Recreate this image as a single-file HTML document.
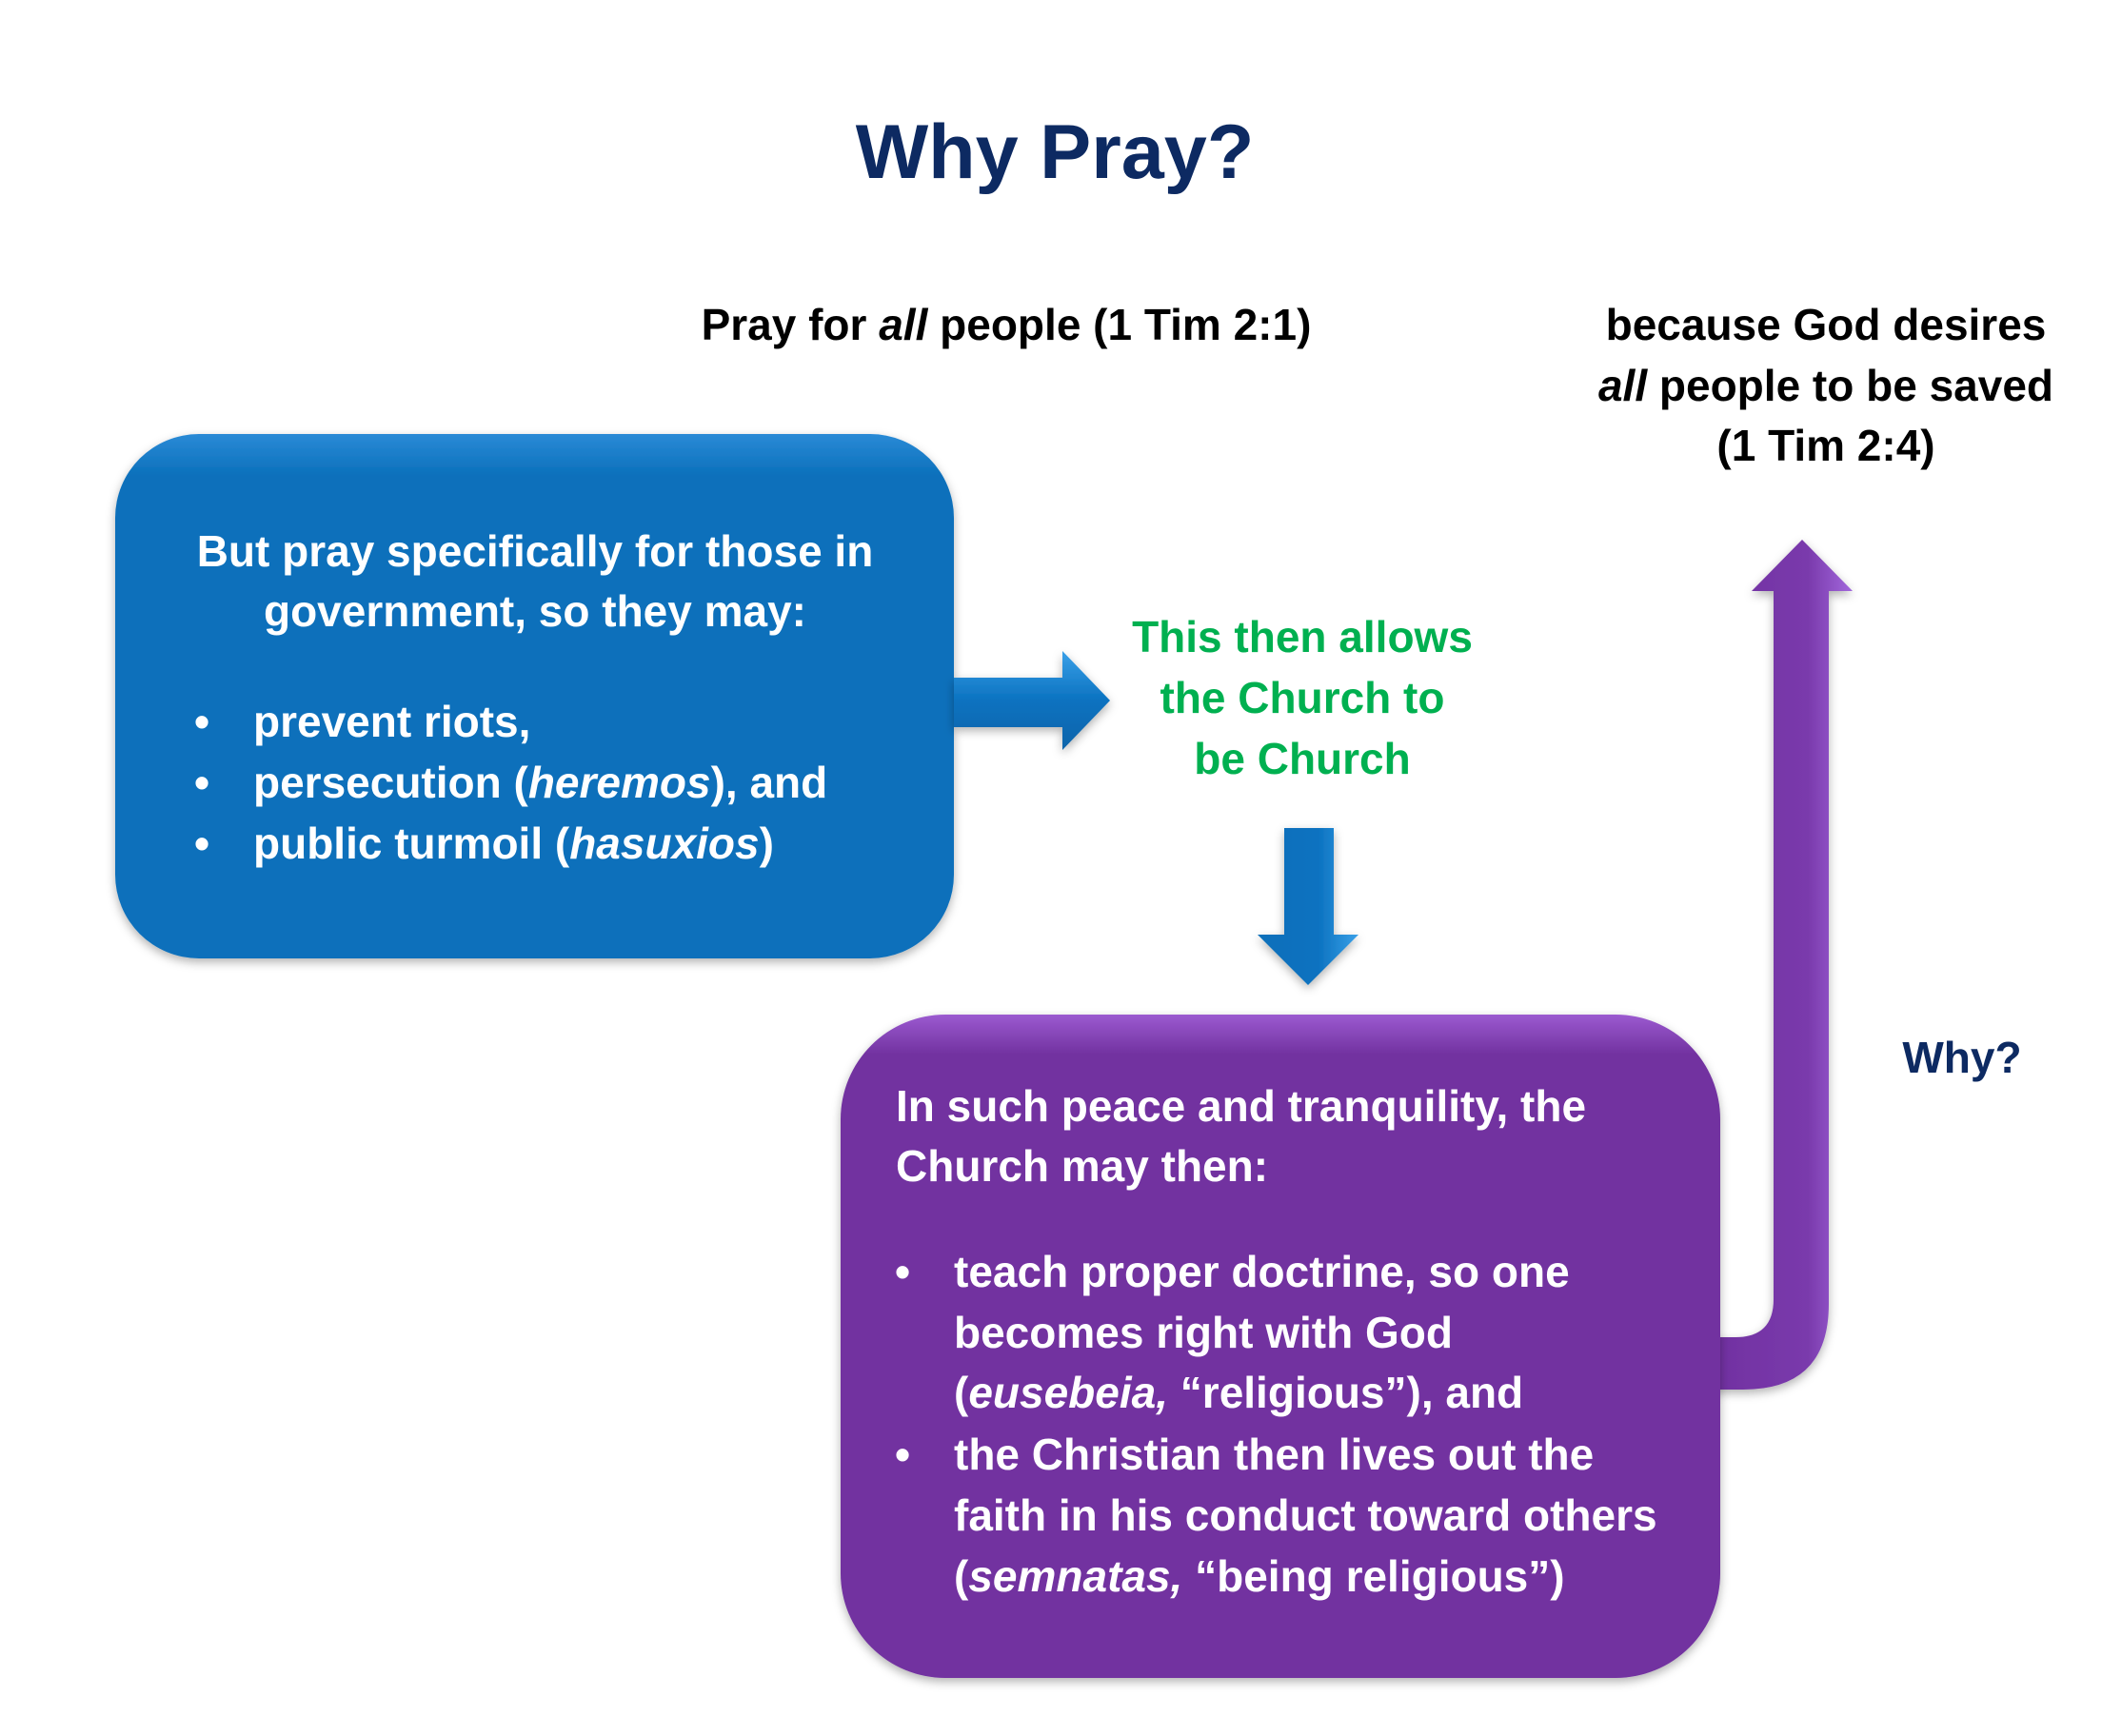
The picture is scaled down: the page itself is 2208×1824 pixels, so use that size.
<!DOCTYPE html>
<html><head><meta charset="utf-8"><style>
html,body{margin:0;padding:0;background:#fff;}
svg{display:block;}
text{font-family:"Liberation Sans",Arial,sans-serif;font-weight:bold;}
</style></head><body>
<svg width="2208" height="1824" viewBox="0 0 2208 1824" xmlns="http://www.w3.org/2000/svg">
<defs>
<filter id="sh" x="-10%" y="-10%" width="120%" height="120%"><feDropShadow dx="0" dy="4" stdDeviation="5" flood-color="#000" flood-opacity="0.3"/></filter>
<linearGradient id="bl" x1="0" y1="0" x2="0" y2="1"><stop offset="0" stop-color="#2a8ad6"/><stop offset="0.08" stop-color="#0b70bb"/><stop offset="1" stop-color="#0b70bb"/></linearGradient>
<linearGradient id="pu" x1="0" y1="0" x2="0" y2="1"><stop offset="0" stop-color="#9b5ad0"/><stop offset="0.06" stop-color="#7232a0"/><stop offset="1" stop-color="#7232a0"/></linearGradient>
<linearGradient id="pa" x1="0" y1="0" x2="1" y2="0"><stop offset="0" stop-color="#7030a0"/><stop offset="0.7" stop-color="#7a3aac"/><stop offset="1" stop-color="#a268dc"/></linearGradient>
<linearGradient id="ba" x1="0" y1="0" x2="0" y2="1"><stop offset="0" stop-color="#3aa0e8"/><stop offset="0.5" stop-color="#0b72c0"/><stop offset="1" stop-color="#0a64aa"/></linearGradient>
<linearGradient id="bd" x1="0" y1="0" x2="1" y2="0"><stop offset="0" stop-color="#0b6fba"/><stop offset="0.6" stop-color="#0b72c0"/><stop offset="1" stop-color="#3aa0e8"/></linearGradient>
</defs>

<text x="1108" y="160" text-anchor="middle" dominant-baseline="central" font-size="81" fill="#0d2a62">Why Pray?</text>

<text x="1057" y="341" text-anchor="middle" dominant-baseline="central" font-size="46" fill="#000">Pray for <tspan font-style="italic">all</tspan> people (1 Tim 2:1)</text>

<text x="1918" y="341" text-anchor="middle" dominant-baseline="central" font-size="46" fill="#000">because God desires</text>
<text x="1918" y="405" text-anchor="middle" dominant-baseline="central" font-size="46" fill="#000"><tspan font-style="italic">all</tspan> people to be saved</text>
<text x="1918" y="468" text-anchor="middle" dominant-baseline="central" font-size="46" fill="#000">(1 Tim 2:4)</text>

<rect x="121" y="456" width="881" height="551" rx="88" fill="url(#bl)" filter="url(#sh)"/>
<text x="562" y="579" text-anchor="middle" dominant-baseline="central" font-size="46" fill="#fff">But pray specifically for those in</text>
<text x="562" y="642" text-anchor="middle" dominant-baseline="central" font-size="46" fill="#fff">government, so they may:</text>
<g font-size="46" fill="#fff" dominant-baseline="central">
<text x="204" y="758">•</text><text x="266" y="758">prevent riots,</text>
<text x="204" y="822">•</text><text x="266" y="822">persecution (<tspan font-style="italic">heremos</tspan>),  and</text>
<text x="204" y="886">•</text><text x="266" y="886">public turmoil (<tspan font-style="italic">hasuxios</tspan>)</text>
</g>

<path d="M1002 712 L1116 712 L1116 684 L1166 736 L1116 788 L1116 764 L1002 764 Z" fill="url(#ba)" filter="url(#sh)"/>

<text x="1368" y="669" text-anchor="middle" dominant-baseline="central" font-size="46" fill="#00b050">This then allows</text>
<text x="1368" y="733" text-anchor="middle" dominant-baseline="central" font-size="46" fill="#00b050">the Church to</text>
<text x="1368" y="797" text-anchor="middle" dominant-baseline="central" font-size="46" fill="#00b050">be Church</text>

<path d="M1349 870 L1401 870 L1401 982 L1427 982 L1374 1035 L1321 982 L1349 982 Z" fill="url(#bd)" filter="url(#sh)"/>

<path d="M1790 1405 L1823 1405 Q1863 1405 1863 1365 L1863 621 L1840 621 L1893 567 L1946 621 L1921 621 L1921 1370 Q1921 1460 1831 1460 L1790 1460 Z" fill="url(#pa)" filter="url(#sh)"/>

<rect x="883" y="1066" width="924" height="697" rx="110" fill="url(#pu)" filter="url(#sh)"/>
<g font-size="46" fill="#fff" dominant-baseline="central">
<text x="941" y="1162">In such peace and tranquility, the</text>
<text x="941" y="1225">Church may then:</text>
<text x="940" y="1336">•</text><text x="1002" y="1336">teach proper doctrine, so one</text>
<text x="1002" y="1400">becomes right with God</text>
<text x="1002" y="1463">(<tspan font-style="italic">eusebeia,</tspan> “religious”), and</text>
<text x="940" y="1528">•</text><text x="1002" y="1528">the Christian then lives out the</text>
<text x="1002" y="1592">faith in his conduct toward others</text>
<text x="1002" y="1656">(<tspan font-style="italic">semnatas,</tspan> “being religious”)</text>
</g>

<text x="2061" y="1111" text-anchor="middle" dominant-baseline="central" font-size="46" fill="#0d2a62">Why?</text>
</svg>
</body></html>
